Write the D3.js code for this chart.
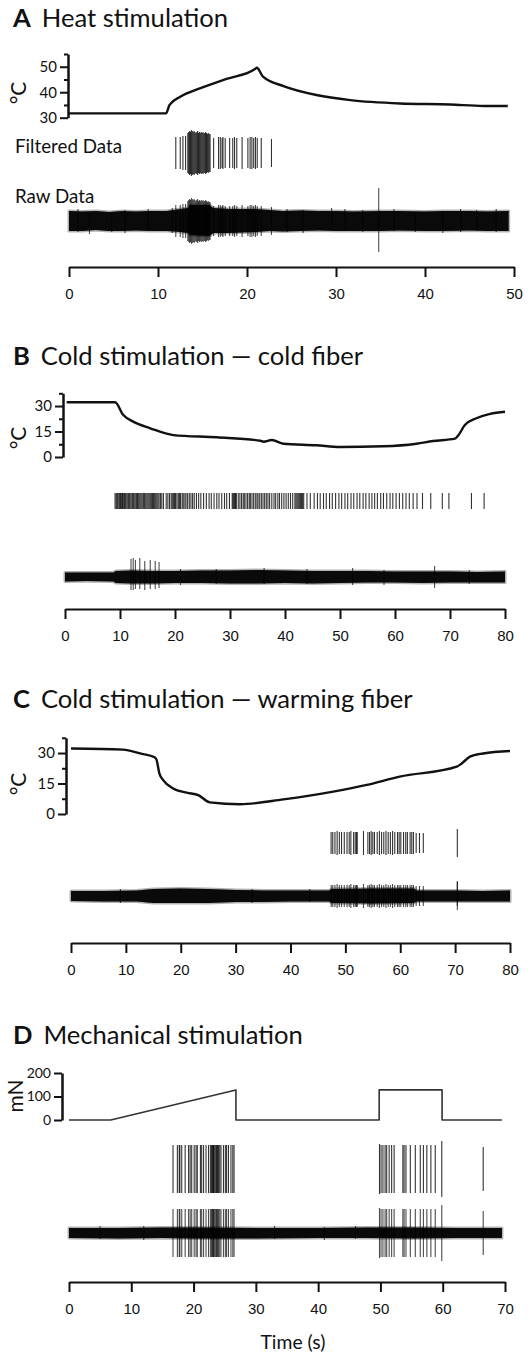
<!DOCTYPE html>
<html>
<head>
<meta charset="utf-8">
<script src="https://cdn.jsdelivr.net/npm/d3@7"></script>
<style>
  html, body { margin: 0; padding: 0; background: #fff; }
  svg { display: block; }
</style>
</head>
<body>
<div id="container"></div>
<script>
// ---------------- 数据 ----------------

// A 热刺激：温度曲线 (s, °C)
const heatTime = [0, 10.9, 11.3, 12.5, 14.7, 17.7, 20.9, 21.1, 21.8, 24.1, 27.8, 31.6, 37.2, 42.8, 46.6, 49.3];
const heatTemp = [31.7, 31.7, 35, 38.2, 41.5, 45.2, 49.1, 49.6, 46.1, 42.4, 38.9, 36.9, 35.6, 35.2, 34.6, 34.6];
// A 滤波后的动作电位 [时间 s, 幅值 µV]
const heatSpikes = [
  [12.0, 16], [12.5, 16], [12.8, 17], [13.1, 17],
  [13.35, 20], [13.45, 21], [13.55, 22], [13.65, 21], [13.75, 23], [13.85, 22], [13.95, 21], [14.05, 22],
  [14.15, 21], [14.25, 20], [14.35, 21], [14.45, 22], [14.55, 20], [14.65, 21], [14.75, 20], [14.85, 21],
  [14.95, 20], [15.05, 21], [15.15, 20], [15.25, 20], [15.35, 21], [15.45, 20], [15.55, 19], [15.65, 20],
  [15.75, 19], [15.85, 19],
  [16.25, 15], [16.8, 16], [17.0, 16], [17.2, 15], [17.3, 16], [17.55, 15], [18.05, 15], [18.4, 15],
  [18.6, 16], [18.85, 15], [19.45, 16], [20.1, 15], [20.35, 16], [20.55, 16], [20.75, 15], [20.95, 16],
  [21.15, 15], [21.6, 15], [22.75, 14]
];
// A 原始信号噪声包络 [时间, 上沿, 下沿] 与孤立尖峰
const heatRawEnvelope = [
  [0, 10, -10], [1.5, 9.5, -10], [3, 10, -9], [4.5, 9, -10], [6, 10, -10], [7.5, 9.5, -9.5], [9, 10, -10],
  [11, 10, -10], [12.5, 12, -11], [13.4, 13, -12], [13.6, 16, -14], [15.8, 16, -15], [16.2, 13, -12],
  [18, 12, -12], [21, 12, -11], [22.5, 11, -10], [24, 10, -10.5], [26, 10.5, -10], [28, 10, -9.5],
  [30, 10, -10], [32, 9.5, -10], [35, 10, -10], [37, 10, -9.5], [40, 9.5, -10], [42, 10, -10],
  [45, 10, -9.5], [47, 9.5, -10], [49.4, 10, -10]
];
const heatRawEvents = [
  [1.0, 12, -11], [2.3, 6, -13], [4.8, 8, -11], [6.3, 11, -12], [8.9, 12, -8], [11.6, 13, -12],
  [24.5, 12, -11], [26.3, 11, -12], [29.5, 13, -9], [31.0, 12, -9], [33.0, 11, -11], [34.8, 33, -31],
  [36.5, 12, -10], [38.9, 9, -11], [42.0, 8, -12], [44.0, 12, -11], [45.8, 11, -9], [48.0, 12, -11]
];

// B 冷刺激 — 冷纤维
const coldTime = [0.3, 9.1, 10.6, 12.4, 15.5, 19.7, 27.6, 35.5, 36.1, 37.6, 39.7, 45.7, 50, 57.9, 63.9, 66.9, 70.9, 71.5, 72.7, 74.8, 77.3, 80];
const coldTemp = [32.2, 32.2, 24.7, 20.8, 16.9, 12.9, 11.6, 9.6, 9.0, 10.0, 7.8, 6.9, 5.9, 6.3, 7.8, 9.4, 10.8, 12.7, 18.8, 22.8, 25.4, 26.6];
const coldSpikeAmp = 8;
const coldSpikes = [
  9.1, 9.3, 9.45, 9.6, 9.8, 9.95, 10.1, 10.3, 10.45, 10.6, 10.8, 10.95, 11.1, 11.3, 11.5, 11.65, 11.8,
  12.0, 12.2, 12.35, 12.5, 12.7, 12.9, 13.05, 13.2, 13.4, 13.6, 13.8, 14.0, 14.2, 14.35, 14.5, 14.7,
  14.9, 15.1, 15.3, 15.5, 15.7, 15.9, 16.1, 16.3, 16.5, 16.7, 16.9, 17.1, 17.35, 17.6, 17.9,
  18.4, 18.7, 19.0, 19.3, 19.5, 19.7, 19.9, 20.1, 20.35, 20.6, 20.8, 21.0, 21.3, 21.5, 21.8, 22.0,
  22.3, 22.6, 22.9, 23.2, 23.5, 23.9, 24.3, 24.7,
  25.2, 25.7, 26.2, 26.6, 27.1, 27.6, 28.0, 28.5, 29.0, 29.4, 29.9,
  30.4, 30.55, 30.7, 30.85, 31.0, 31.15,
  31.5, 31.8, 32.1, 32.4, 32.6, 32.9, 33.2, 33.5, 33.7, 34.0, 34.3, 34.6, 34.9, 35.1, 35.4, 35.7,
  36.0, 36.3, 36.6, 36.9, 37.2, 37.6, 38.0, 38.3, 38.7, 39.0, 39.4, 39.8, 40.2, 40.6, 41.0, 41.4,
  41.8, 42.0, 42.2, 42.4, 42.6, 42.8, 43.0, 43.2, 43.4,
  44.0, 44.6, 45.3, 45.9, 46.4, 47.0, 47.5, 48.1, 48.6, 49.2, 49.8, 50.3, 50.9, 51.4, 52.0, 52.5,
  53.1, 53.6, 54.2, 54.7, 55.3, 55.8, 56.3, 56.8, 57.4, 57.9, 58.5, 59.1, 59.6, 60.2, 60.8, 61.4,
  62.0, 62.6, 63.3, 64.0, 65.0, 66.5, 68.6, 69.8, 73.9, 76.2
];
const coldRawEnvelope = [
  [0, 4.5, -4.5], [4, 4.5, -4], [8.8, 4.5, -4.5], [9.2, 6, -6], [12, 6.5, -6.5], [16, 6, -6.5], [20, 6, -6],
  [25, 6.5, -6], [30, 6.5, -6.5], [35, 7, -6.5], [40, 6.5, -6], [45, 6, -6.5], [50, 6, -6], [55, 6, -5.5],
  [60, 5.5, -5.5], [65, 5.5, -6], [70, 5.5, -5.5], [75, 5, -5.5], [80, 5.5, -5.5]
];
const coldRawEvents = [
  [12.0, 18, -13], [12.4, 19, -13], [12.8, 17, -12], [13.6, 19, -12], [14.5, 16, -13], [15.5, 17, -12],
  [16.4, 16, -12], [17.1, 15, -11], [21.0, 8, -8], [27.5, 8, -7], [36.2, 9, -7], [44.0, 8, -7],
  [52.3, 9, -8], [58.0, 7, -8], [67.2, 11, -11], [73.5, 7, -7]
];

// C 冷刺激 — 温纤维
const warmTime = [0, 9.5, 12.6, 15.3, 15.6, 16.1, 16.8, 18.6, 21.1, 23.2, 25.3, 30.8, 38.7, 47.8, 53.9, 59.9, 70.3, 71.2, 72.7, 75.1, 80];
const warmTemp = [32.2, 31.7, 29.8, 27.8, 26.6, 20, 16.7, 12.6, 10.5, 9.3, 5.7, 4.8, 7.2, 11.0, 14.3, 18.4, 23.3, 24.9, 28.2, 29.8, 31];
const warmSpikes = [
  [47.4, 11], [47.7, 11], [48.1, 11], [48.5, 12], [48.9, 11], [49.3, 11], [49.8, 11], [50.3, 11],
  [50.7, 11], [51.0, 12], [51.5, 11], [51.8, 11], [52.05, 11], [52.15, 11], [53.3, 12], [54.1, 11],
  [54.4, 11], [54.7, 12], [55.0, 11], [55.3, 11], [55.8, 11], [56.2, 12], [56.6, 11], [57.0, 11],
  [57.4, 12], [57.8, 11], [58.2, 11], [58.6, 12], [59.0, 11], [59.5, 11], [59.8, 11], [60.1, 11],
  [60.6, 11], [61.0, 11], [61.3, 11], [61.8, 11], [62.1, 11], [62.4, 11], [62.9, 10], [63.5, 10],
  [64.2, 10], [70.4, 14]
];
const warmRawEnvelope = [
  [0, 5, -5], [6, 5, -5.5], [12, 5.5, -5.5], [15, 7, -7], [20, 7.5, -7], [25, 7, -7], [30, 6, -6],
  [35, 5.5, -6], [40, 5.5, -5.5], [47, 5.5, -5.5], [47.5, 7, -7], [55, 7.5, -7.5], [62.5, 7.5, -7],
  [63, 5.5, -5.5], [70, 5.5, -5.5], [75, 5, -5.5], [80, 5.5, -5.5]
];
const warmRawEvents = [[70.4, 15, -10], [9.0, 7, -7], [33.0, 7, -7], [43.5, 7, -6]];

// D 机械刺激：力 (s, mN)
const forceTime = [0, 6.7, 26.8, 26.8, 49.8, 49.8, 59.9, 59.9, 69.5];
const forceValue = [0, 0, 128, 0, 0, 128, 128, 0, 0];
const mechSpikes = [
  [16.7, 24], [17.4, 24], [17.7, 24], [17.8, 24], [18.1, 24], [18.65, 24], [19.2, 24], [19.45, 24],
  [19.7, 24], [20.1, 24], [20.4, 24], [20.6, 24], [21.1, 24], [21.3, 24], [21.6, 24], [22.0, 24],
  [22.4, 24], [22.7, 24], [22.9, 24], [23.0, 24], [23.1, 24], [23.2, 24], [23.3, 24], [23.45, 24],
  [23.6, 24], [23.7, 24], [23.85, 24], [24.0, 24], [24.2, 24], [24.4, 24], [24.8, 24], [25.1, 24],
  [25.3, 24], [25.6, 24], [26.0, 24], [26.3, 24], [26.5, 24],
  [49.85, 25], [50.1, 24], [50.4, 24], [50.75, 24], [51.0, 24], [51.4, 24], [51.8, 24], [52.2, 24],
  [53.6, 24], [53.8, 24], [54.1, 24], [54.8, 24], [55.6, 24], [56.4, 24], [56.9, 24], [57.45, 24],
  [58.1, 24], [58.8, 24], [59.85, 28], [66.5, 22]
];
const mechRawEnvelope = [
  [0, 5, -5], [8, 5, -5.5], [15, 5.5, -5], [20, 5.5, -5.5], [30, 5, -5.5], [40, 5, -5], [48, 5.5, -5],
  [55, 5.5, -5.5], [62, 5, -5], [69.5, 5, -5]
];
const mechRawEvents = [[5.0, 7, -6], [12.0, 7, -7], [33.0, 7, -6], [41.0, 6, -7], [46.0, 7, -6]];

// x 轴刻度
const ticks50 = [0, 10, 20, 30, 40, 50];
const ticks80 = [0, 10, 20, 30, 40, 50, 60, 70, 80];
const ticks70 = [0, 10, 20, 30, 40, 50, 60, 70];

// ---------------- 布局 ----------------
const width = 528;
const height = 1355;
const titleFont = "Lato, 'Open Sans', sans-serif";
const tickFont = "'Liberation Sans', Arial, sans-serif";

const svg = d3
  .select("#container")
  .append("svg")
  .attr("width", width)
  .attr("height", height)
  .attr("viewBox", [0, 0, width, height]);

const zip = (a, b) => a.map((d, i) => [d, b[i]]);

// 按目标宽度调整字号
function fitWidth(text, target) {
  const w = text.node().getBBox().width;
  const fs = parseFloat(text.attr("font-size"));
  text.attr("font-size", (fs * target / w).toFixed(2));
}

const panels = [
  {
    letter: "A", title: "Heat stimulation", titleY: 27,
    xDomain: [0, 50], xRange: [69, 514], xTicks: ticks50, axisY: 267,
    stim: zip(heatTime, heatTemp), stimX: 68, stimDomain: [30, 55], stimRange: [117.7, 54],
    stimMajor: [30, 40, 50], stimMinor: [35, 45, 55], stimLabel: "°C", stimLabelX: 19, stimLabelY: 93,
    spikes: heatSpikes, filtY: 153, rawY: 221,
    envelope: heatRawEnvelope, events: heatRawEvents, rawFromSpikes: true, labels: true
  },
  {
    letter: "B", title: "Cold stimulation — cold fiber", titleY: 365,
    xDomain: [0, 80], xRange: [65, 505], xTicks: ticks80, axisY: 609,
    stim: zip(coldTime, coldTemp), stimX: 63, stimDomain: [0, 37.5], stimRange: [457, 393.3],
    stimMajor: [0, 15, 30], stimMinor: [7.5, 22.5, 37.5], stimLabel: "°C", stimLabelX: 19, stimLabelY: 438,
    spikes: coldSpikes.map((t) => [t, coldSpikeAmp]), filtY: 501, rawY: 577,
    envelope: coldRawEnvelope, events: coldRawEvents, rawFromSpikes: false
  },
  {
    letter: "C", title: "Cold stimulation — warming fiber", titleY: 708,
    xDomain: [0, 80], xRange: [71, 510], xTicks: ticks80, axisY: 943,
    stim: zip(warmTime, warmTemp), stimX: 66, stimDomain: [0, 37.5], stimRange: [814, 737.8],
    stimMajor: [0, 15, 30], stimMinor: [7.5, 22.5, 37.5], stimLabel: "°C", stimLabelX: 19, stimLabelY: 784,
    spikes: warmSpikes, filtY: 843, rawY: 896,
    envelope: warmRawEnvelope, events: warmRawEvents, rawFromSpikes: true
  },
  {
    letter: "D", title: "Mechanical stimulation", titleY: 1044,
    xDomain: [0, 70], xRange: [69, 505], xTicks: ticks70, axisY: 1282,
    stim: zip(forceTime, forceValue), stimX: 62, stimDomain: [0, 200], stimRange: [1120, 1073],
    stimMajor: [0, 100, 200], stimMinor: [], stimLabel: "mN", stimLabelX: 16, stimLabelY: 1096, linear: true,
    stimFontSize: 14,
    spikes: mechSpikes, filtY: 1169, rawY: 1233,
    envelope: mechRawEnvelope, events: mechRawEvents, rawFromSpikes: true, xLabel: "Time (s)"
  }
];

// 标题字号：让 B 的标题宽度与原图一致，其余面板共用
let titleSize = 22;
{
  const probe = svg.append("text").attr("font-family", titleFont).attr("font-size", 22);
  probe.append("tspan").attr("font-weight", "bold").text("B");
  probe.append("tspan").attr("dx", 11).text("Cold stimulation — cold fiber");
  fitWidth(probe, 352);
  titleSize = +probe.attr("font-size");
  probe.remove();
}

function drawPanel(p) {
  const x = d3.scaleLinear(p.xDomain, p.xRange);
  const yStim = d3.scaleLinear(p.stimDomain, p.stimRange);
  // 幅值 µV -> 像素（每条轨迹以其中心为零点）
  const yFilt = d3.scaleLinear([-100, 100], [p.filtY + 100, p.filtY - 100]);
  const yRaw = d3.scaleLinear([-100, 100], [p.rawY + 100, p.rawY - 100]);

  const g = svg.append("g");

  // 标题
  const t = g.append("text")
    .attr("x", 13).attr("y", p.titleY)
    .attr("font-family", titleFont).attr("font-size", titleSize).attr("fill", "#111");
  t.append("tspan").attr("font-weight", "bold").text(p.letter);
  t.append("tspan").attr("dx", 11).text(p.title);

  // 刺激的纵轴
  const yAxis = g.append("g")
    .attr("transform", `translate(${p.stimX},0)`)
    .call(d3.axisLeft(yStim).tickValues(p.stimMajor).tickSize(8).tickPadding(3).tickSizeOuter(0));
  yAxis.attr("font-family", titleFont).attr("font-size", p.stimFontSize || 15);
  yAxis.select(".domain").attr("stroke", "#111").attr("stroke-width", 2.5);
  yAxis.selectAll(".tick line").attr("stroke", "#111").attr("stroke-width", 2);
  yAxis.selectAll(".tick text").attr("fill", "#111");

  if (p.stimMinor.length) {
    const minor = g.append("g")
      .attr("transform", `translate(${p.stimX},0)`)
      .call(d3.axisLeft(yStim).tickValues(p.stimMinor).tickSize(4).tickFormat("").tickSizeOuter(0));
    minor.select(".domain").remove();
    minor.selectAll(".tick line").attr("stroke", "#111").attr("stroke-width", 2);
  }

  g.append("text")
    .attr("transform", `translate(${p.stimLabelX},${p.stimLabelY}) rotate(-90)`)
    .attr("text-anchor", "middle").attr("dy", "0.35em")
    .attr("font-family", titleFont).attr("font-size", 21).attr("fill", "#111")
    .text(p.stimLabel);

  // 刺激曲线
  const line = d3.line()
    .curve(p.linear ? d3.curveLinear : d3.curveMonotoneX)
    .x((d) => x(d[0]))
    .y((d) => yStim(d[1]));
  g.append("path")
    .attr("fill", "none")
    .attr("stroke", p.linear ? "#333" : "#111")
    .attr("stroke-width", p.linear ? 1.6 : 2.4)
    .attr("stroke-linejoin", "round")
    .attr("d", line(p.stim));

  // 滤波后的信号
  g.append("g")
    .attr("stroke", "#000").attr("stroke-width", 1.1).attr("stroke-opacity", 0.8)
    .selectAll("line")
    .data(p.spikes)
    .join("line")
    .attr("x1", (d) => x(d[0])).attr("x2", (d) => x(d[0]))
    .attr("y1", (d) => yFilt(d[1])).attr("y2", (d) => yFilt(-d[1]));

  // 原始信号：噪声带（外圈半透明，模拟毛糙边缘）+ 尖峰
  const area = d3.area()
    .x((d) => x(d[0]))
    .y0((d) => yRaw(d[2]))
    .y1((d) => yRaw(d[1]));
  g.append("path")
    .attr("fill", "#000").attr("fill-opacity", 0.3)
    .attr("stroke", "#000").attr("stroke-opacity", 0.3).attr("stroke-width", 3)
    .attr("stroke-linejoin", "round")
    .attr("d", area(p.envelope));
  g.append("path")
    .attr("fill", "#0a0a0a")
    .attr("d", area(p.envelope));

  const rawSpikes = (p.rawFromSpikes ? p.spikes.map((d) => [d[0], d[1], -d[1]]) : []).concat(p.events);
  g.append("g")
    .attr("stroke", "#000").attr("stroke-width", 1.1).attr("stroke-opacity", 0.7)
    .selectAll("line")
    .data(rawSpikes)
    .join("line")
    .attr("x1", (d) => x(d[0])).attr("x2", (d) => x(d[0]))
    .attr("y1", (d) => yRaw(d[1])).attr("y2", (d) => yRaw(d[2]));

  // 时间轴
  const xAxis = g.append("g")
    .attr("transform", `translate(0,${p.axisY})`)
    .call(d3.axisBottom(x).tickValues(p.xTicks).tickSize(10).tickPadding(11).tickSizeOuter(0));
  xAxis.attr("font-family", tickFont).attr("font-size", 15);
  xAxis.select(".domain").attr("stroke", "#111").attr("stroke-width", 2);
  xAxis.selectAll(".tick line").attr("stroke", "#111").attr("stroke-width", 2);
  xAxis.selectAll(".tick text").attr("fill", "#111");

  if (p.labels) {
    const f = g.append("text").attr("x", 15).attr("y", 153)
      .attr("font-family", titleFont).attr("font-size", 17).attr("fill", "#111")
      .text("Filtered Data");
    fitWidth(f, 107);
    g.append("text").attr("x", 15).attr("y", 203)
      .attr("font-family", titleFont).attr("font-size", +f.attr("font-size")).attr("fill", "#111")
      .text("Raw Data");
  }
  if (p.xLabel) {
    const tl = g.append("text").attr("x", 293).attr("y", p.axisY + 67)
      .attr("text-anchor", "middle")
      .attr("font-family", titleFont).attr("font-size", 17).attr("fill", "#111")
      .text(p.xLabel);
    fitWidth(tl, 65);
  }
}

panels.forEach(drawPanel);
</script>
</body>
</html>
